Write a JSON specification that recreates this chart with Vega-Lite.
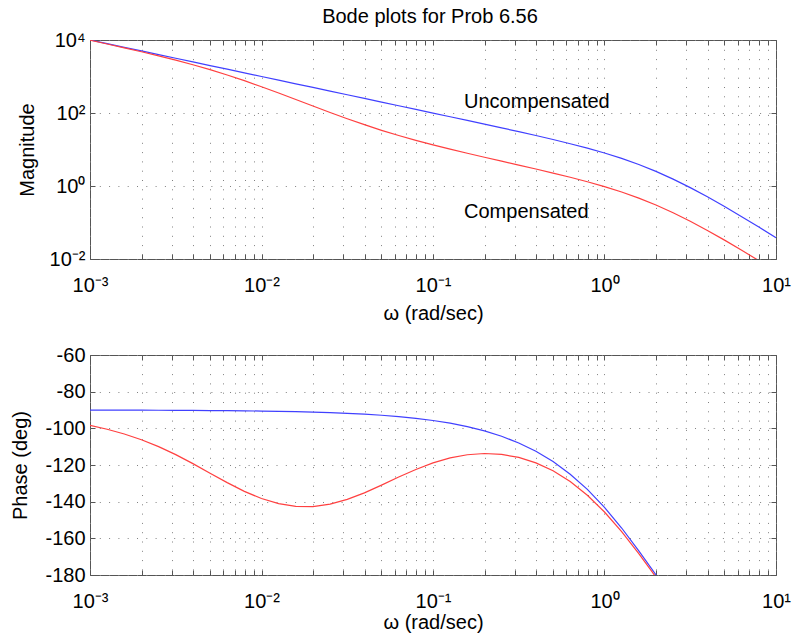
{
  "$schema": "https://vega.github.io/schema/vega-lite/v6.json",
  "padding": {"left": 10, "top": 6, "right": 4, "bottom": 2},
  "spacing": 96,
  "bounds": "flush",
  "datasets": {
    "mag": [
      {"w": 0.001, "m": 10000, "s": "U"},
      {"w": 0.0012589, "m": 7943.3, "s": "U"},
      {"w": 0.0015849, "m": 6309.6, "s": "U"},
      {"w": 0.0019953, "m": 5011.9, "s": "U"},
      {"w": 0.0025119, "m": 3981.1, "s": "U"},
      {"w": 0.0031623, "m": 3162.3, "s": "U"},
      {"w": 0.0039811, "m": 2511.9, "s": "U"},
      {"w": 0.0050119, "m": 1995.3, "s": "U"},
      {"w": 0.0063096, "m": 1584.9, "s": "U"},
      {"w": 0.0079433, "m": 1258.9, "s": "U"},
      {"w": 0.01, "m": 1000, "s": "U"},
      {"w": 0.012589, "m": 794.3, "s": "U"},
      {"w": 0.015849, "m": 630.9, "s": "U"},
      {"w": 0.019953, "m": 501.1, "s": "U"},
      {"w": 0.025119, "m": 398.0, "s": "U"},
      {"w": 0.031623, "m": 316.1, "s": "U"},
      {"w": 0.039811, "m": 251.1, "s": "U"},
      {"w": 0.050119, "m": 199.4, "s": "U"},
      {"w": 0.063096, "m": 158.3, "s": "U"},
      {"w": 0.079433, "m": 125.7, "s": "U"},
      {"w": 0.1, "m": 99.75, "s": "U"},
      {"w": 0.12589, "m": 79.12, "s": "U"},
      {"w": 0.15849, "m": 62.70, "s": "U"},
      {"w": 0.19953, "m": 49.63, "s": "U"},
      {"w": 0.25119, "m": 39.19, "s": "U"},
      {"w": 0.31623, "m": 30.85, "s": "U"},
      {"w": 0.39811, "m": 24.16, "s": "U"},
      {"w": 0.50119, "m": 18.77, "s": "U"},
      {"w": 0.63096, "m": 14.41, "s": "U"},
      {"w": 0.79433, "m": 10.88, "s": "U"},
      {"w": 1, "m": 8.0, "s": "U"},
      {"w": 1.2589, "m": 5.689, "s": "U"},
      {"w": 1.5849, "m": 3.876, "s": "U"},
      {"w": 1.9953, "m": 2.512, "s": "U"},
      {"w": 2.5119, "m": 1.545, "s": "U"},
      {"w": 3.1623, "m": 0.9035, "s": "U"},
      {"w": 3.9811, "m": 0.5062, "s": "U"},
      {"w": 5.0119, "m": 0.2741, "s": "U"},
      {"w": 6.3096, "m": 0.1447, "s": "U"},
      {"w": 7.9433, "m": 0.07505, "s": "U"},
      {"w": 10, "m": 0.03846, "s": "U"},
      {"w": 0.001, "m": 9866, "s": "C"},
      {"w": 0.0012589, "m": 7776, "s": "C"},
      {"w": 0.0015849, "m": 6103, "s": "C"},
      {"w": 0.0019953, "m": 4760, "s": "C"},
      {"w": 0.0025119, "m": 3677, "s": "C"},
      {"w": 0.0031623, "m": 2803, "s": "C"},
      {"w": 0.0039811, "m": 2100, "s": "C"},
      {"w": 0.0050119, "m": 1539, "s": "C"},
      {"w": 0.0063096, "m": 1101, "s": "C"},
      {"w": 0.0079433, "m": 768.3, "s": "C"},
      {"w": 0.01, "m": 524.7, "s": "C"},
      {"w": 0.012589, "m": 352.4, "s": "C"},
      {"w": 0.015849, "m": 234.3, "s": "C"},
      {"w": 0.019953, "m": 155.4, "s": "C"},
      {"w": 0.025119, "m": 103.5, "s": "C"},
      {"w": 0.031623, "m": 69.72, "s": "C"},
      {"w": 0.039811, "m": 47.83, "s": "C"},
      {"w": 0.050119, "m": 33.56, "s": "C"},
      {"w": 0.063096, "m": 24.13, "s": "C"},
      {"w": 0.079433, "m": 17.77, "s": "C"},
      {"w": 0.1, "m": 13.36, "s": "C"},
      {"w": 0.12589, "m": 10.20, "s": "C"},
      {"w": 0.15849, "m": 7.884, "s": "C"},
      {"w": 0.19953, "m": 6.137, "s": "C"},
      {"w": 0.25119, "m": 4.794, "s": "C"},
      {"w": 0.31623, "m": 3.747, "s": "C"},
      {"w": 0.39811, "m": 2.922, "s": "C"},
      {"w": 0.50119, "m": 2.263, "s": "C"},
      {"w": 0.63096, "m": 1.735, "s": "C"},
      {"w": 0.79433, "m": 1.308, "s": "C"},
      {"w": 1, "m": 0.9612, "s": "C"},
      {"w": 1.2589, "m": 0.6832, "s": "C"},
      {"w": 1.5849, "m": 0.4654, "s": "C"},
      {"w": 1.9953, "m": 0.3015, "s": "C"},
      {"w": 2.5119, "m": 0.1854, "s": "C"},
      {"w": 3.1623, "m": 0.1084, "s": "C"},
      {"w": 3.9811, "m": 0.06075, "s": "C"},
      {"w": 5.0119, "m": 0.03289, "s": "C"},
      {"w": 6.3096, "m": 0.01736, "s": "C"},
      {"w": 7.9433, "m": 0.009006, "s": "C"},
      {"w": 10, "m": 0.004615, "s": "C"}
    ],
    "phase": [
      {"w": 0.001, "p": -90.06, "s": "U"},
      {"w": 0.0012589, "p": -90.07, "s": "U"},
      {"w": 0.0015849, "p": -90.09, "s": "U"},
      {"w": 0.0019953, "p": -90.11, "s": "U"},
      {"w": 0.0025119, "p": -90.14, "s": "U"},
      {"w": 0.0031623, "p": -90.18, "s": "U"},
      {"w": 0.0039811, "p": -90.23, "s": "U"},
      {"w": 0.0050119, "p": -90.29, "s": "U"},
      {"w": 0.0063096, "p": -90.36, "s": "U"},
      {"w": 0.0079433, "p": -90.46, "s": "U"},
      {"w": 0.01, "p": -90.57, "s": "U"},
      {"w": 0.012589, "p": -90.72, "s": "U"},
      {"w": 0.015849, "p": -90.91, "s": "U"},
      {"w": 0.019953, "p": -91.14, "s": "U"},
      {"w": 0.025119, "p": -91.44, "s": "U"},
      {"w": 0.031623, "p": -91.81, "s": "U"},
      {"w": 0.039811, "p": -92.28, "s": "U"},
      {"w": 0.050119, "p": -92.87, "s": "U"},
      {"w": 0.063096, "p": -93.61, "s": "U"},
      {"w": 0.079433, "p": -94.55, "s": "U"},
      {"w": 0.1, "p": -95.72, "s": "U"},
      {"w": 0.12589, "p": -97.20, "s": "U"},
      {"w": 0.15849, "p": -99.06, "s": "U"},
      {"w": 0.19953, "p": -101.39, "s": "U"},
      {"w": 0.25119, "p": -104.32, "s": "U"},
      {"w": 0.31623, "p": -107.97, "s": "U"},
      {"w": 0.39811, "p": -112.52, "s": "U"},
      {"w": 0.50119, "p": -118.14, "s": "U"},
      {"w": 0.63096, "p": -125.02, "s": "U"},
      {"w": 0.79433, "p": -133.32, "s": "U"},
      {"w": 1, "p": -143.13, "s": "U"},
      {"w": 1.2589, "p": -154.37, "s": "U"},
      {"w": 1.5849, "p": -166.79, "s": "U"},
      {"w": 1.9953, "p": -179.87, "s": "U"},
      {"w": 2.5119, "p": -192.95, "s": "U"},
      {"w": 0.001, "p": -98.37, "s": "C"},
      {"w": 0.0012589, "p": -100.48, "s": "C"},
      {"w": 0.0015849, "p": -103.07, "s": "C"},
      {"w": 0.0019953, "p": -106.22, "s": "C"},
      {"w": 0.0025119, "p": -109.97, "s": "C"},
      {"w": 0.0031623, "p": -114.35, "s": "C"},
      {"w": 0.0039811, "p": -119.25, "s": "C"},
      {"w": 0.0050119, "p": -124.45, "s": "C"},
      {"w": 0.0063096, "p": -129.61, "s": "C"},
      {"w": 0.0079433, "p": -134.37, "s": "C"},
      {"w": 0.01, "p": -138.30, "s": "C"},
      {"w": 0.012589, "p": -141.10, "s": "C"},
      {"w": 0.015849, "p": -142.59, "s": "C"},
      {"w": 0.019953, "p": -142.65, "s": "C"},
      {"w": 0.025119, "p": -141.33, "s": "C"},
      {"w": 0.031623, "p": -138.75, "s": "C"},
      {"w": 0.039811, "p": -135.18, "s": "C"},
      {"w": 0.050119, "p": -130.98, "s": "C"},
      {"w": 0.063096, "p": -126.57, "s": "C"},
      {"w": 0.079433, "p": -122.42, "s": "C"},
      {"w": 0.1, "p": -118.85, "s": "C"},
      {"w": 0.12589, "p": -116.13, "s": "C"},
      {"w": 0.15849, "p": -114.40, "s": "C"},
      {"w": 0.19953, "p": -113.74, "s": "C"},
      {"w": 0.25119, "p": -114.21, "s": "C"},
      {"w": 0.31623, "p": -115.87, "s": "C"},
      {"w": 0.39811, "p": -118.82, "s": "C"},
      {"w": 0.50119, "p": -123.15, "s": "C"},
      {"w": 0.63096, "p": -129.01, "s": "C"},
      {"w": 0.79433, "p": -136.49, "s": "C"},
      {"w": 1, "p": -145.65, "s": "C"},
      {"w": 1.2589, "p": -156.37, "s": "C"},
      {"w": 1.5849, "p": -168.38, "s": "C"},
      {"w": 1.9953, "p": -181.13, "s": "C"}
    ],
    "labels": [
      {"w": 0.1517, "m": 137, "label": "Uncompensated"},
      {"w": 0.1517, "m": 0.133, "label": "Compensated"}
    ]
  },
  "config": {
    "font": "Liberation Sans",
    "view": {"stroke": "#555555", "strokeWidth": 1},
    "axis": {
      "labelFont": "Liberation Sans",
      "labelFontSize": 20,
      "labelColor": "#000000",
      "titleFont": "Liberation Sans",
      "titleFontSize": 20,
      "titleFontWeight": "normal",
      "titleColor": "#000000",
      "tickColor": "#555555",
      "tickSize": -5,
      "domain": false,
      "gridColor": "#808080",
      "gridWidth": 1,
      "gridDash": [1, 8.3],
      "labelOverlap": false,
      "labelFlush": false,
      "labelBound": false
    }
  },
  "vconcat": [
    {
      "width": 686,
      "height": 219,
      "title": {"text": "Bode plots for Prob 6.56", "font": "Liberation Sans", "fontSize": 20, "fontWeight": "normal", "color": "#000000", "anchor": "middle", "frame": "group", "baseline": "alphabetic", "offset": -13, "dx": -3},
      "layer": [
        {
          "data": {"name": "mag"},
          "transform": [{"filter": "datum.s == 'U'"}],
          "mark": {"type": "line", "color": "#4040ff", "strokeWidth": 1.2, "clip": true},
          "encoding": {
            "x": {"field": "w", "type": "quantitative", "scale": {"type": "log", "domain": [0.001, 10], "nice": false},
              "axis": {"orient": "bottom", "title": "ω (rad/sec)", "titlePadding": 8, "labelPadding": 21, "grid": true,
                "values": [0.001,0.002,0.003,0.004,0.005,0.006,0.007,0.008,0.009,0.01,0.02,0.03,0.04,0.05,0.06,0.07,0.08,0.09,0.1,0.2,0.3,0.4,0.5,0.6,0.7,0.8,0.9,1,2,3,4,5,6,7,8,9,10],
                "labelExpr": "datum.value == 0.001 ? '10⁻³' : datum.value == 0.01 ? '10⁻²' : datum.value == 0.1 ? '10⁻¹' : datum.value == 1 ? '10⁰' : datum.value == 10 ? '10¹' : ''"}},
            "y": {"field": "m", "type": "quantitative", "scale": {"type": "log", "domain": [0.01, 10000], "nice": false},
              "axis": {"orient": "left", "title": "Magnitude", "titlePadding": 12, "labelPadding": 10, "grid": true,
                "values": [0.01, 1, 100, 10000],
                "labelExpr": "datum.value == 0.01 ? '10⁻²' : datum.value == 1 ? '10⁰' : datum.value == 100 ? '10²' : '10⁴'"}}
          }
        },
        {
          "data": {"name": "mag"},
          "transform": [{"filter": "datum.s == 'C'"}],
          "mark": {"type": "line", "color": "#ff4040", "strokeWidth": 1.2, "clip": true},
          "encoding": {
            "x": {"field": "w", "type": "quantitative", "scale": {"type": "log", "domain": [0.001, 10], "nice": false},
              "axis": {"orient": "top", "title": null, "labels": false, "grid": false, "minExtent": 0, "maxExtent": 0,
                "values": [0.001,0.002,0.003,0.004,0.005,0.006,0.007,0.008,0.009,0.01,0.02,0.03,0.04,0.05,0.06,0.07,0.08,0.09,0.1,0.2,0.3,0.4,0.5,0.6,0.7,0.8,0.9,1,2,3,4,5,6,7,8,9,10]}},
            "y": {"field": "m", "type": "quantitative", "scale": {"type": "log", "domain": [0.01, 10000], "nice": false},
              "axis": {"orient": "right", "title": null, "labels": false, "grid": false, "minExtent": 0, "maxExtent": 0, "values": [0.01, 1, 100, 10000]}}
          }
        },
        {
          "data": {"name": "labels"},
          "mark": {"type": "text", "align": "left", "baseline": "alphabetic", "font": "Liberation Sans", "fontSize": 20, "color": "#000000"},
          "encoding": {
            "x": {"field": "w", "type": "quantitative", "axis": null},
            "y": {"field": "m", "type": "quantitative", "axis": null},
            "text": {"field": "label"}
          }
        }
      ],
      "resolve": {"axis": {"x": "independent", "y": "independent"}}
    },
    {
      "width": 686,
      "height": 220,
      "layer": [
        {
          "data": {"name": "phase"},
          "transform": [{"filter": "datum.s == 'U'"}],
          "mark": {"type": "line", "color": "#4040ff", "strokeWidth": 1.2, "clip": true},
          "encoding": {
            "x": {"field": "w", "type": "quantitative", "scale": {"type": "log", "domain": [0.001, 10], "nice": false},
              "axis": {"orient": "bottom", "title": "ω (rad/sec)", "titlePadding": 1, "labelPadding": 21, "grid": true,
                "values": [0.001,0.002,0.003,0.004,0.005,0.006,0.007,0.008,0.009,0.01,0.02,0.03,0.04,0.05,0.06,0.07,0.08,0.09,0.1,0.2,0.3,0.4,0.5,0.6,0.7,0.8,0.9,1,2,3,4,5,6,7,8,9,10],
                "labelExpr": "datum.value == 0.001 ? '10⁻³' : datum.value == 0.01 ? '10⁻²' : datum.value == 0.1 ? '10⁻¹' : datum.value == 1 ? '10⁰' : datum.value == 10 ? '10¹' : ''"}},
            "y": {"field": "p", "type": "quantitative", "scale": {"domain": [-180, -60], "nice": false, "zero": false},
              "axis": {"orient": "left", "title": "Phase (deg)", "titlePadding": 14, "labelPadding": 10, "grid": true,
                "values": [-180, -160, -140, -120, -100, -80, -60],
                "labelExpr": "'' + datum.value"}}
          }
        },
        {
          "data": {"name": "phase"},
          "transform": [{"filter": "datum.s == 'C'"}],
          "mark": {"type": "line", "color": "#ff4040", "strokeWidth": 1.2, "clip": true},
          "encoding": {
            "x": {"field": "w", "type": "quantitative", "scale": {"type": "log", "domain": [0.001, 10], "nice": false},
              "axis": {"orient": "top", "title": null, "labels": false, "grid": false, "minExtent": 0, "maxExtent": 0,
                "values": [0.001,0.002,0.003,0.004,0.005,0.006,0.007,0.008,0.009,0.01,0.02,0.03,0.04,0.05,0.06,0.07,0.08,0.09,0.1,0.2,0.3,0.4,0.5,0.6,0.7,0.8,0.9,1,2,3,4,5,6,7,8,9,10]}},
            "y": {"field": "p", "type": "quantitative", "scale": {"domain": [-180, -60], "nice": false, "zero": false},
              "axis": {"orient": "right", "title": null, "labels": false, "grid": false, "minExtent": 0, "maxExtent": 0, "values": [-180, -160, -140, -120, -100, -80, -60]}}
          }
        }
      ],
      "resolve": {"axis": {"x": "independent", "y": "independent"}}
    }
  ]
}
